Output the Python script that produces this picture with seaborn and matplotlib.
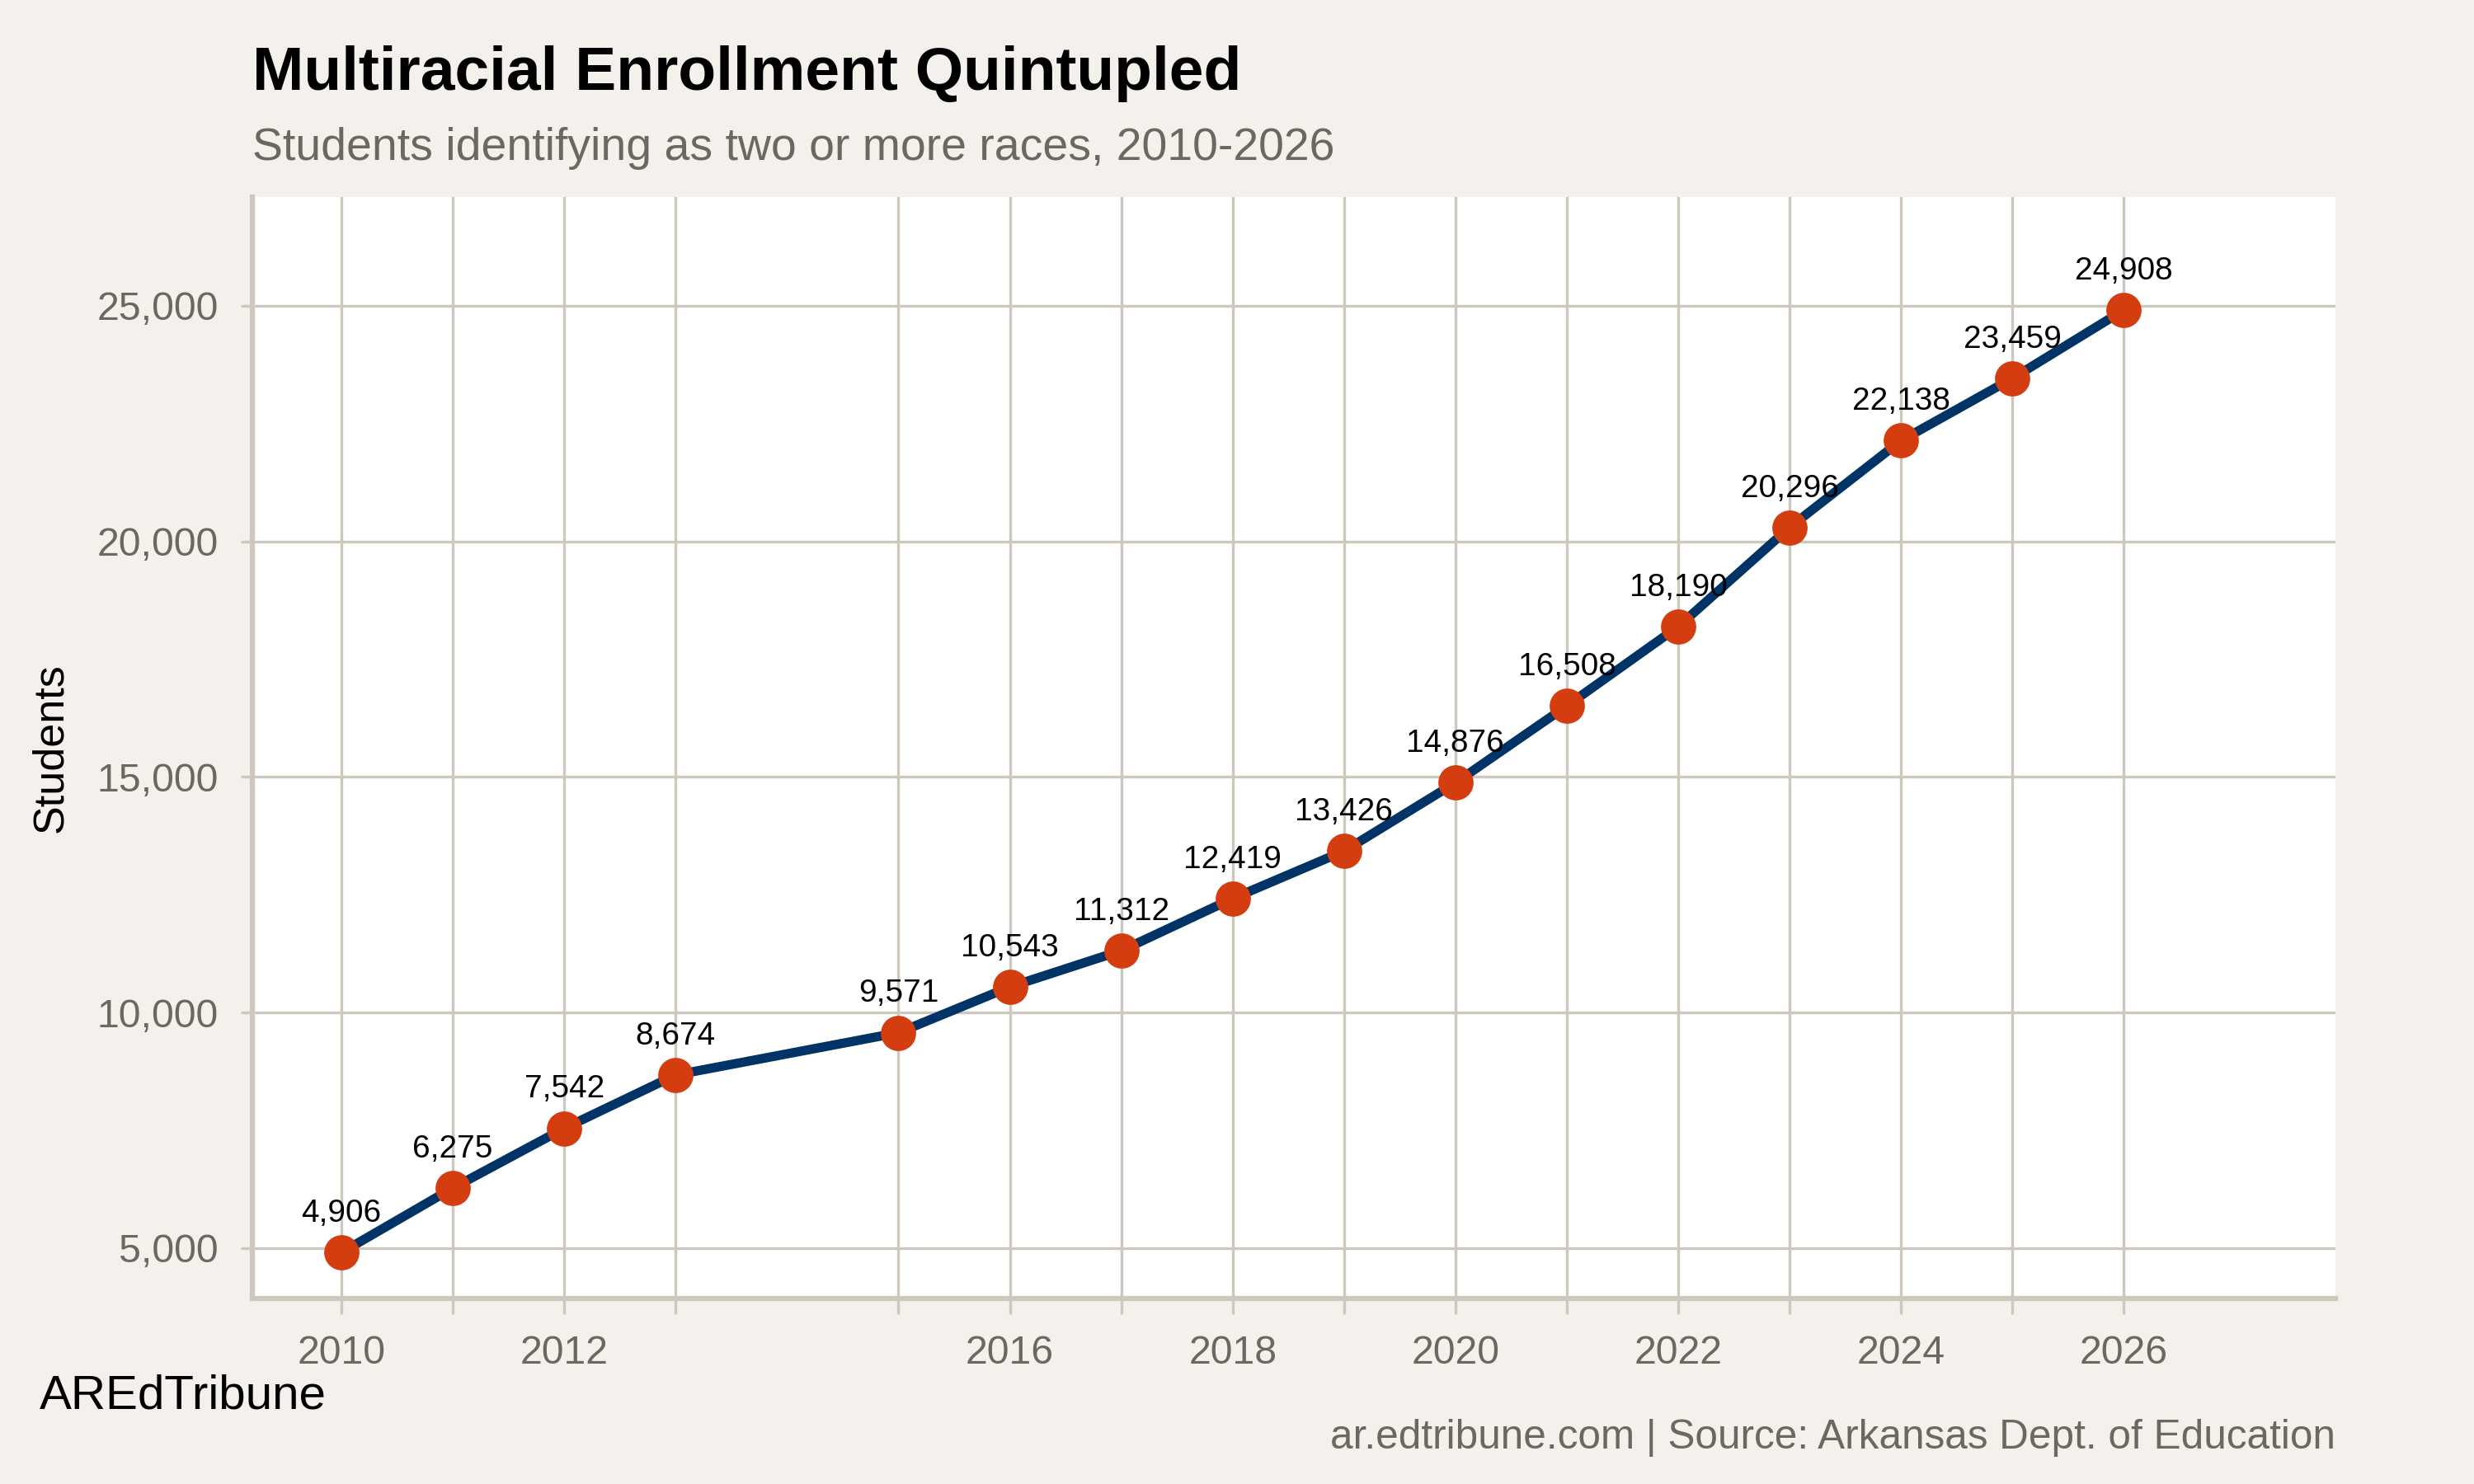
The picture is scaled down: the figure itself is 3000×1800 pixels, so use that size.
import pandas as pd
import numpy as np
import matplotlib
matplotlib.use("Agg")
import matplotlib.pyplot as plt
import seaborn as sns
from matplotlib.ticker import FuncFormatter, FixedLocator

# Enrollment of students identifying as two or more races
years = [2010, 2011, 2012, 2013, 2015, 2016, 2017, 2018,
         2019, 2020, 2021, 2022, 2023, 2024, 2025, 2026]
students = [4906, 6275, 7542, 8674, 9571, 10543, 11312, 12419,
            13426, 14876, 16508, 18190, 20296, 22138, 23459, 24908]
labeled_years = [2010, 2012, 2016, 2018, 2020, 2022, 2024, 2026]
y_ticks = [5000, 10000, 15000, 20000, 25000]

df = pd.DataFrame({'Year': years, 'Students': students})

bg = '#f4f1ec'
grid_c = '#cdc7bd'
navy = '#003366'
orange = '#d43d0f'
grey_txt = '#6b6862'

sns.set_theme(style='white')
plt.rcParams['font.family'] = ['Liberation Sans', 'DejaVu Sans']

fig = plt.figure(figsize=(10, 6), dpi=300, facecolor=bg)
ax = fig.add_axes([0.102, 0.125, 0.842, 0.742])
ax.set_facecolor('white')

sns.lineplot(data=df, x='Year', y='Students', ax=ax, color=navy, linewidth=2.7,
             marker='o', markersize=9.5, markerfacecolor=orange,
             markeredgecolor=orange, zorder=3)

for x, y in zip(years, students):
    ax.annotate(f'{y:,}', (x, y), xytext=(0, 7), textcoords='offset points',
                ha='center', va='bottom', fontsize=9.3, color='black', zorder=4)

ax.set_xlim(2009.2, 2027.9)
ax.set_ylim(3930, 27300)

# ticks at every data year, labels only on selected years
ax.xaxis.set_major_locator(FixedLocator(years))
ax.set_xticklabels([str(y) if y in labeled_years else '' for y in years])
ax.set_yticks(y_ticks)
ax.yaxis.set_major_formatter(FuncFormatter(lambda v, p: f'{int(v):,}'))

ax.grid(True, color=grid_c, linewidth=0.8)
ax.set_axisbelow(True)
ax.tick_params(axis='x', which='major', bottom=True, direction='out', length=4.6,
               width=0.8, color=grid_c, labelsize=11.6, labelcolor=grey_txt, pad=6)
ax.tick_params(axis='y', which='major', left=True, direction='out', length=3.4,
               width=0.8, color=grid_c, labelsize=11.6, labelcolor=grey_txt, pad=6.5)

for side in ['top', 'right']:
    ax.spines[side].set_visible(False)
for side in ['left', 'bottom']:
    ax.spines[side].set_color(grid_c)
    ax.spines[side].set_linewidth(1.5)

ax.set_xlabel('')
ax.set_ylabel('Students', fontsize=12.5, color='black')
ax.yaxis.set_label_coords(-0.087, 0.5)

fig.text(0.102, 0.950, 'Multiracial Enrollment Quintupled', fontsize=18,
         fontweight='bold', color='black', ha='left', va='center')
fig.text(0.102, 0.900, 'Students identifying as two or more races, 2010-2026',
         fontsize=13.3, color=grey_txt, ha='left', va='center')
fig.text(0.016, 0.059, 'AREdTribune', fontsize=14, color='black',
         ha='left', va='center')
fig.text(0.944, 0.031, 'ar.edtribune.com | Source: Arkansas Dept. of Education',
         fontsize=11.9, color=grey_txt, ha='right', va='center')

fig.savefig('out.png', dpi=300, facecolor=bg)
